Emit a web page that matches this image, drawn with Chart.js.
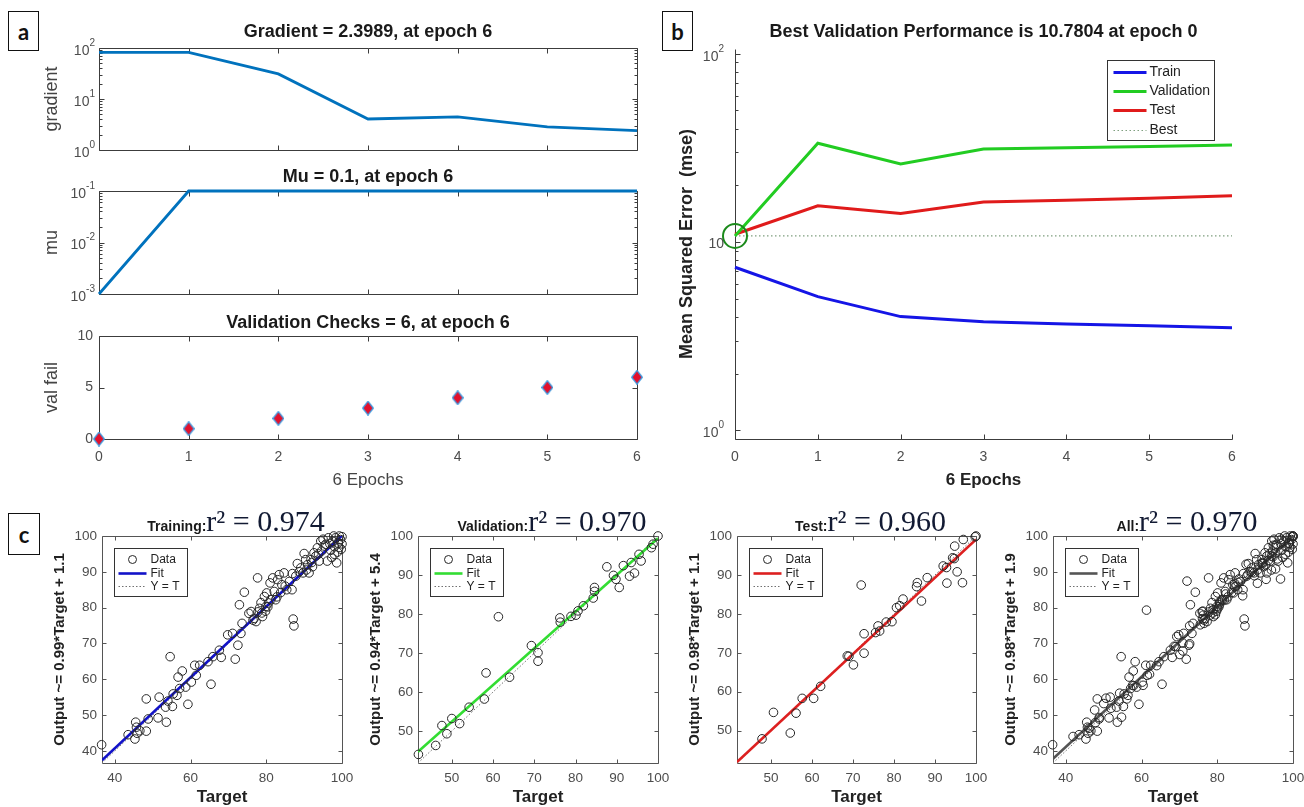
<!DOCTYPE html>
<html>
<head>
<meta charset="utf-8">
<title>Training record and regression</title>
<script src="https://cdn.jsdelivr.net/npm/chart.js@4.4.1/dist/chart.umd.min.js"></script>
<style>
  html, body { margin: 0; padding: 0; background: #fff; }
  body { position: relative; width: 1304px; height: 807px; overflow: hidden; }
  canvas { position: absolute; }
  .tag { position: absolute; box-sizing: border-box; border: 1.5px solid #111; background: #fff;
         font: bold 22px Lato, "Open Sans", sans-serif; color: #111;
         display: flex; align-items: center; justify-content: center; }
</style>
</head>
<body>
<div class="tag" style="left:8px;top:11px;width:31px;height:40px">a</div>
<div class="tag" style="left:662px;top:11px;width:31px;height:40px">b</div>
<div class="tag" style="left:8px;top:513px;width:32px;height:42px">c</div>
<script>
const SANS = '"Liberation Sans", Arial, sans-serif';
const SERIF = '"Liberation Serif", "Times New Roman", serif';

// training record (panels a and b)
const epochs = [0, 1, 2, 3, 4, 5, 6];
const gradientVals = [82, 82, 31, 4.05, 4.45, 2.85, 2.3989];
const muVals = [0.001, 0.1, 0.1, 0.1, 0.1, 0.1, 0.1];
const valFail = [0, 1, 2, 3, 4, 5, 6];
const trainPerf = [7.35, 5.13, 4.02, 3.78, 3.67, 3.6, 3.51];
const valPerf = [10.7804, 33.5, 26.0, 31.2, 31.7, 32.2, 32.8];
const testPerf = [11.0, 15.6, 14.2, 16.3, 16.7, 17.1, 17.6];
const bestEpoch = 0;
const bestPerf = 10.7804;
const perfNames = ['Train', 'Validation', 'Test', 'Best'];

const gradTicks = [1, 10, 100];
const muTicks = [0.001, 0.01, 0.1];
const vfTicks = [0, 5, 10];
const perfTicks = [1, 10, 100];

// regression plots (panel c)
const trainTarget = [36.5,43.5,45.3,45.5,45.7,45.9,46.6,48.3,48.3,48.8,
  51.4,51.7,53.6,53.4,54.0,54.6,55.2,55.4,56.4,56.7,
  57.1,57.8,58.7,59.3,60.2,61.1,61.5,62.4,64.6,65.4,
  65.9,67.6,68.1,69.8,71.1,71.8,72.5,72.9,73.3,74.2,
  73.6,75.4,76.0,76.8,77.3,77.7,78.2,78.6,79.0,79.5,
  79.9,80.1,80.6,81.0,81.2,81.7,82.1,82.5,83.0,83.4,
  84.1,84.7,85.4,86.1,86.9,86.8,87.1,87.3,87.8,88.2,
  89.1,89.7,90.0,90.4,90.9,91.3,91.8,92.2,92.6,93.1,
  93.5,94.0,94.4,94.6,95.0,95.3,95.7,96.1,96.4,97.0,
  97.5,98.0,98.3,98.8,99.0,99.3,99.6,100,100,97.3,
  98.6,99.8,96.8,97.8,98.0,99.2,76.5,77.8,78.8,79.8,
  80.4,82.8,83.8,85.0,88.7,90.6,92.0,93.8];
const trainOutput = [41.7,44.5,43.3,48.0,46.6,44.9,45.6,45.5,54.5,48.9,
  49.2,55.0,48.0,52.2,53.9,66.3,52.4,55.9,55.5,60.6,
  57.4,62.3,57.8,53.0,59.2,63.9,61.1,63.9,64.9,58.6,
  66.3,68.1,66.1,72.4,72.8,65.6,69.5,80.8,72.8,84.3,
  75.6,78.4,78.9,77.0,76.1,88.3,79.8,81.4,77.5,83.1,
  80.3,84.1,81.3,86.9,82.2,88.3,84.5,82.2,87.8,89.2,
  86.4,89.7,85.0,87.3,89.5,85.0,76.8,74.9,88.8,92.3,
  91.1,89.7,95.1,93.4,92.0,89.7,93.4,91.4,95.3,94.4,
  96.7,93.0,98.6,95.8,99.1,97.2,97.7,93.0,99.5,96.0,
  98.5,97.0,99.5,95.5,98.0,100,99.0,99.8,97.8,94.0,
  92.5,96.3,97.8,100,94.9,96.8,76.5,78.8,78.5,79.0,
  80.2,83.0,84.2,86.0,90.0,90.5,92.6,95.0];
const valTarget = [41.9,46.1,47.6,48.8,50.0,51.9,54.2,57.9,58.3,61.3,64.0,69.3,70.9,70.9,76.2,76.3,78.9,80.1,
  80.6,81.9,84.3,84.6,84.6,87.6,89.2,89.8,90.6,91.6,93.1,93.5,94.3,95.4,95.9,98.4,98.8,100];
const valOutput = [44.0,46.3,51.4,49.3,53.2,51.9,56.1,58.2,64.9,79.3,63.8,71.9,70.1,67.9,79.0,77.9,79.4,79.7,
  80.8,82.1,84.1,86.8,85.8,92.1,89.9,88.9,86.8,92.4,89.7,93.2,90.5,95.3,93.6,97.0,97.9,100];
const testTarget = [47.8,50.6,54.7,56.1,57.6,60.4,62.1,68.6,69.0,70.1,72.0,72.7,72.7,75.5,76.1,76.5,78.1,79.5,
  80.6,81.4,82.2,85.5,85.7,86.7,88.1,92.0,92.8,92.9,94.3,94.7,94.8,95.4,96.7,96.9,100,99.8];
const testOutput = [47.9,54.7,49.4,54.5,58.3,58.3,61.4,69.2,69.1,66.9,87.4,74.9,69.9,75.2,76.9,75.6,77.9,78.0,
  81.6,82.1,83.8,87.0,88.0,83.3,89.3,92.3,91.9,87.9,94.4,94.2,97.4,90.8,88.0,99.1,100,99.8];
const allTarget = trainTarget.concat(valTarget, testTarget);
const allOutput = trainOutput.concat(valOutput, testOutput);

const regNames = ['Training', 'Validation', 'Test', 'All'];
const regR2 = ['0.974', '0.970', '0.960', '0.970'];
const fitSlope = [0.99, 0.94, 0.98, 0.98];
const fitIntercept = [1.1, 5.4, 1.1, 1.9];
const regMin = [36.6, 41.8, 41.7, 36.6];
const regMax = [100, 100, 100, 100];
const regXTicks = [[40, 60, 80, 100], [50, 60, 70, 80, 90, 100], [50, 60, 70, 80, 90, 100], [40, 60, 80, 100]];
const regYTicks = [[40, 50, 60, 70, 80, 90, 100], [50, 60, 70, 80, 90, 100], [50, 60, 70, 80, 90, 100], [40, 50, 60, 70, 80, 90, 100]];

const tickColor = '#4d4d4d';

function pts(xs, ys) { return xs.map((v, i) => ({ x: v, y: ys[i] })); }

function minorLog(decades) {
  const out = [];
  decades.forEach(d => { for (let k = 2; k <= 9; k++) out.push(k * d); });
  return out;
}

function lineSet(data, color, width, extra) {
  return Object.assign({ data, showLine: true, borderColor: color, borderWidth: width,
    pointRadius: 0, fill: false, clip: false }, extra || {});
}

// matlab style axes: box, inward ticks, log labels, title, legend
function matlabAxes(spec) {
  return {
    id: 'matlabAxes',
    beforeDatasetsDraw(chart) {
      const { ctx, chartArea: a, scales } = chart;
      const L = Math.round(a.left) + 0.5, R = Math.round(a.right) + 0.5;
      const T = Math.round(a.top) + 0.5, B = Math.round(a.bottom) + 0.5;
      const tl = spec.tickLen;
      ctx.save();
      ctx.strokeStyle = spec.axisColor;
      ctx.lineWidth = 1;
      ctx.beginPath();
      if (spec.box) {
        ctx.rect(L, T, R - L, B - T);
      } else {
        ctx.moveTo(L, T); ctx.lineTo(L, B); ctx.lineTo(R, B);
      }
      spec.xTicks.forEach(v => {
        const p = Math.round(scales.x.getPixelForValue(v)) + 0.5;
        ctx.moveTo(p, B); ctx.lineTo(p, B - tl);
        if (spec.box) { ctx.moveTo(p, T); ctx.lineTo(p, T + tl); }
      });
      const yMarks = (vals, len) => vals.forEach(v => {
        const p = Math.round(scales.y.getPixelForValue(v)) + 0.5;
        ctx.moveTo(L, p); ctx.lineTo(L + len, p);
        if (spec.box) { ctx.moveTo(R, p); ctx.lineTo(R - len, p); }
      });
      yMarks(spec.yTicks, tl);
      yMarks(spec.yMinor || [], Math.round(tl * 0.6));
      ctx.stroke();
      ctx.restore();
    },
    afterDraw(chart) {
      const { ctx, chartArea: a, scales } = chart;
      ctx.save();
      if (spec.logLabels) {
        ctx.fillStyle = tickColor;
        ctx.textBaseline = 'middle';
        ctx.textAlign = 'right';
        spec.yTicks.forEach(v => {
          const py = scales.y.getPixelForValue(v);
          const e = Math.round(Math.log10(v));
          const rx = a.left - spec.labelGap;
          ctx.font = '14px ' + SANS;
          if (spec.plainTen && e === 1) { ctx.fillText('10', rx, py + 2); return; }
          ctx.font = '10px ' + SANS;
          const es = String(e);
          const we = ctx.measureText(es).width;
          ctx.fillText(es, rx, py - 5);
          ctx.font = '14px ' + SANS;
          ctx.fillText('10', rx - we, py + 3);
        });
      }
      if (spec.title) {
        ctx.font = spec.titleFont;
        ctx.fillStyle = '#1a1a1a';
        ctx.textAlign = 'center';
        ctx.textBaseline = 'middle';
        ctx.fillText(spec.title, (a.left + a.right) / 2, a.top - spec.titleDy);
      }
      if (spec.titleParts) {
        ctx.textAlign = 'left';
        ctx.textBaseline = 'alphabetic';
        let total = 0;
        const ws = spec.titleParts.map(p => { ctx.font = p.font; const w = ctx.measureText(p.text).width; total += w; return w; });
        let cx = (a.left + a.right) / 2 + spec.titleShift - total / 2;
        spec.titleParts.forEach((p, i) => {
          ctx.font = p.font; ctx.fillStyle = p.color;
          ctx.fillText(p.text, cx, a.top - spec.titleBase);
          cx += ws[i];
        });
      }
      if (spec.legend) {
        const lg = spec.legend;
        const lx = Math.round(a.left + lg.x) + 0.5, ly = Math.round(a.top + lg.y) + 0.5;
        ctx.fillStyle = '#fff';
        ctx.fillRect(lx, ly, lg.w, lg.h);
        ctx.strokeStyle = '#333';
        ctx.lineWidth = 1;
        ctx.strokeRect(lx, ly, lg.w, lg.h);
        ctx.font = lg.font;
        ctx.textAlign = 'left';
        ctx.textBaseline = 'middle';
        lg.items.forEach((it, i) => {
          const ry = ly + lg.rows[i];
          ctx.beginPath();
          if (it.kind === 'marker') {
            ctx.setLineDash([]);
            ctx.arc(lx + lg.markerX, ry, 4, 0, 2 * Math.PI);
            ctx.lineWidth = 1;
          } else {
            ctx.setLineDash(it.dash || []);
            ctx.moveTo(lx + lg.s0, ry); ctx.lineTo(lx + lg.s1, ry);
            ctx.lineWidth = it.width;
          }
          ctx.strokeStyle = it.color;
          ctx.stroke();
          ctx.setLineDash([]);
          ctx.fillStyle = '#222';
          ctx.fillText(it.text, lx + lg.tx, ry);
        });
      }
      ctx.restore();
    }
  };
}

function makeChart(plot, pad, cfg) {
  const w = plot.r - plot.l + pad.l + pad.r;
  const h = plot.b - plot.t + pad.t + pad.b;
  const cv = document.createElement('canvas');
  cv.width = w; cv.height = h;
  cv.style.left = (plot.l - pad.l) + 'px';
  cv.style.top = (plot.t - pad.t) + 'px';
  cv.style.width = w + 'px'; cv.style.height = h + 'px';
  document.body.appendChild(cv);
  const x = Object.assign({
    type: 'linear', position: 'bottom',
    grid: { display: false, drawTicks: false }, border: { display: false },
    ticks: { display: false },
    afterFit: s => { s.height = pad.b; s.paddingLeft = 0; s.paddingRight = 0; }
  }, cfg.x);
  const y = Object.assign({
    type: 'linear', position: 'left',
    grid: { display: false, drawTicks: false }, border: { display: false },
    ticks: { display: false },
    afterFit: s => { s.width = pad.l; s.paddingTop = 0; s.paddingBottom = 0; }
  }, cfg.y);
  return new Chart(cv, {
    type: 'scatter',
    data: { datasets: cfg.datasets },
    options: {
      responsive: false, animation: false, events: [],
      layout: { padding: { left: 0, top: pad.t, right: pad.r, bottom: 0 } },
      plugins: { legend: { display: false }, tooltip: { enabled: false }, title: { display: false } },
      scales: { x, y }
    },
    plugins: [matlabAxes(cfg.spec)]
  });
}

function shownTicks(vals, size, pad) {
  return {
    ticks: { display: true, color: tickColor, font: { family: SANS, size: size }, padding: pad,
             maxRotation: 0, autoSkip: false, callback: v => String(v) },
    afterBuildTicks: s => { s.ticks = vals.map(v => ({ value: v })); }
  };
}

// ---------- panel a ----------
const blueA = '#0072BD';
const padA = { l: 99, t: 28, r: 13, b: 12 };
const axTitleA = { family: SANS, size: 18 };

makeChart({ l: 99, t: 48, r: 637, b: 150 }, padA, {
  datasets: [lineSet(pts(epochs, gradientVals), blueA, 2.8)],
  x: { min: 0, max: 6 },
  y: { type: 'logarithmic', min: 1, max: 100,
       title: { display: true, text: 'gradient', color: '#444', font: axTitleA, padding: { top: 41, bottom: 0 } } },
  spec: { box: true, tickLen: 5, axisColor: '#3c3c3c', xTicks: epochs, yTicks: gradTicks, yMinor: minorLog([1, 10]),
          logLabels: true, labelGap: 4,
          title: 'Gradient = ' + gradientVals[6] + ', at epoch ' + epochs[6], titleFont: 'bold 18px ' + SANS, titleDy: 16 }
});

makeChart({ l: 99, t: 191, r: 637, b: 294 }, padA, {
  datasets: [lineSet(pts(epochs, muVals), blueA, 2.8)],
  x: { min: 0, max: 6 },
  y: { type: 'logarithmic', min: 0.001, max: 0.1,
       title: { display: true, text: 'mu', color: '#444', font: axTitleA, padding: { top: 41, bottom: 0 } } },
  spec: { box: true, tickLen: 5, axisColor: '#3c3c3c', xTicks: epochs, yTicks: muTicks, yMinor: minorLog([0.001, 0.01]),
          logLabels: true, labelGap: 4,
          title: 'Mu = ' + muVals[6] + ', at epoch ' + epochs[6], titleFont: 'bold 18px ' + SANS, titleDy: 14 }
});

const diamond = (() => {
  const c = document.createElement('canvas');
  c.width = 12; c.height = 15;
  const g = c.getContext('2d');
  g.beginPath();
  g.moveTo(6, 0.7); g.lineTo(11.3, 7.5); g.lineTo(6, 14.3); g.lineTo(0.7, 7.5); g.closePath();
  g.fillStyle = '#e3102c'; g.fill();
  g.strokeStyle = '#3d9be0'; g.lineWidth = 1.3; g.stroke();
  return c;
})();

makeChart({ l: 99, t: 336, r: 637, b: 439 }, { l: 99, t: 28, r: 13, b: 56 }, {
  datasets: [{ data: pts(epochs, valFail), showLine: false, pointStyle: diamond, pointRadius: 7, clip: false }],
  x: Object.assign({ min: 0, max: 6,
       title: { display: true, text: '6 Epochs', color: '#444', font: { family: SANS, size: 17 }, padding: { top: 0, bottom: 4 } } },
       shownTicks(epochs, 14, 9.6)),
  y: Object.assign({ min: 0, max: 10,
       title: { display: true, text: 'val fail', color: '#444', font: axTitleA, padding: { top: 41, bottom: 0 } } },
       shownTicks(vfTicks, 14, 6)),
  spec: { box: true, tickLen: 5, axisColor: '#3c3c3c', xTicks: epochs, yTicks: vfTicks,
          title: 'Validation Checks = ' + valFail[6] + ', at epoch ' + epochs[6], titleFont: 'bold 18px ' + SANS, titleDy: 13 }
});

// ---------- panel b ----------
const perfColors = ['#1515e6', '#22cc22', '#e01b1b', '#7f9f7f'];
makeChart({ l: 735, t: 49, r: 1232, b: 439 }, { l: 75, t: 39, r: 18, b: 56 }, {
  datasets: [
    { data: [{ x: bestEpoch, y: bestPerf }], showLine: false, pointRadius: 12, pointBorderWidth: 2,
      pointBorderColor: '#1b8a1b', pointBackgroundColor: 'rgba(0,0,0,0)', clip: false },
    lineSet(pts(epochs, trainPerf), perfColors[0], 3),
    lineSet(pts(epochs, valPerf), perfColors[1], 3),
    lineSet(pts(epochs, testPerf), perfColors[2], 3),
    lineSet(epochs.map(e => ({ x: e, y: bestPerf })), perfColors[3], 1.2, { borderDash: [1.5, 2.5] })
  ],
  x: Object.assign({ min: 0, max: 6,
       title: { display: true, text: '6 Epochs', color: '#222', font: { family: SANS, size: 17, weight: 'bold' }, padding: { top: 0, bottom: 4 } } },
       shownTicks(epochs, 14, 9.6)),
  y: { type: 'logarithmic', min: 0.9, max: 106,
       title: { display: true, text: 'Mean Squared Error  (mse)', color: '#222', font: { family: SANS, size: 18, weight: 'bold' }, padding: { top: 16, bottom: 0 } } },
  spec: { box: false, tickLen: 5, axisColor: '#3c3c3c', xTicks: epochs, yTicks: perfTicks, yMinor: minorLog([1, 10]),
          logLabels: true, plainTen: true, labelGap: 11,
          title: 'Best Validation Performance is ' + bestPerf + ' at epoch ' + bestEpoch, titleFont: 'bold 18px ' + SANS, titleDy: 17,
          legend: { x: 372, y: 11, w: 107, h: 80, rows: [12, 31, 50, 70], font: '14px ' + SANS, s0: 6, s1: 39, tx: 42,
            items: perfNames.map((n, i) => ({ kind: 'line', text: n, color: perfColors[i], width: i < 3 ? 3 : 1.2, dash: i < 3 ? null : [1.5, 2.5] })) } }
});

// ---------- panel c ----------
const regTargets = [trainTarget, valTarget, testTarget, allTarget];
const regOutputs = [trainOutput, valOutput, testOutput, allOutput];
const fitColors = ['#1212c8', '#33dd33', '#dd2020', '#555555'];
const regPlots = [
  { l: 102, t: 536, r: 342, b: 763 },
  { l: 418, t: 536, r: 658, b: 763 },
  { l: 737, t: 536, r: 976, b: 763 },
  { l: 1053, t: 536, r: 1293, b: 763 }
];
const regPad = { l: 62, t: 36, r: 11, b: 46 };

regPlots.forEach((plot, i) => {
  const lo = regMin[i], hi = regMax[i];
  makeChart(plot, regPad, {
    datasets: [
      { data: pts(regTargets[i], regOutputs[i]), showLine: false, pointRadius: 4.3, pointBorderWidth: 1,
        pointBorderColor: '#262626', pointBackgroundColor: 'rgba(0,0,0,0)', clip: false },
      lineSet([{ x: lo, y: fitSlope[i] * lo + fitIntercept[i] }, { x: hi, y: fitSlope[i] * hi + fitIntercept[i] }],
              fitColors[i], 2.6, { clip: 0 }),
      lineSet([{ x: lo, y: lo }, { x: hi, y: hi }], '#707070', 1, { borderDash: [1.5, 2] })
    ],
    x: Object.assign({ min: lo, max: hi,
         title: { display: true, text: 'Target', color: '#222', font: { family: SANS, size: 17, weight: 'bold' }, padding: { top: 0, bottom: 1 } } },
         shownTicks(regXTicks[i], 13.5, 6.9)),
    y: Object.assign({ min: lo, max: hi,
         title: { display: true, text: 'Output ~= ' + fitSlope[i] + '*Target + ' + fitIntercept[i], color: '#222',
                  font: { family: SANS, size: 15, weight: 'bold' }, padding: { top: 11, bottom: 0 } } },
         shownTicks(regYTicks[i], 13.5, 5)),
    spec: { box: true, tickLen: 4, axisColor: '#555', xTicks: regXTicks[i], yTicks: regYTicks[i],
            titleParts: [
              { text: regNames[i] + ':', font: 'bold 14px ' + SANS, color: '#1a1a1a' },
              { text: 'r\u00b2 = ' + regR2[i], font: '30px ' + SERIF, color: '#121a33' }
            ],
            titleShift: 14, titleBase: 5,
            legend: { x: 12, y: 12, w: 73, h: 48, rows: [11, 25, 38], font: '12px ' + SANS, s0: 4, s1: 32, tx: 36, markerX: 18,
              items: [
                { kind: 'marker', text: 'Data', color: '#262626' },
                { kind: 'line', text: 'Fit', color: fitColors[i], width: 2.6 },
                { kind: 'line', text: 'Y = T', color: '#707070', width: 1, dash: [1.5, 2] }
              ] } }
  });
});
</script>
</body>
</html>
